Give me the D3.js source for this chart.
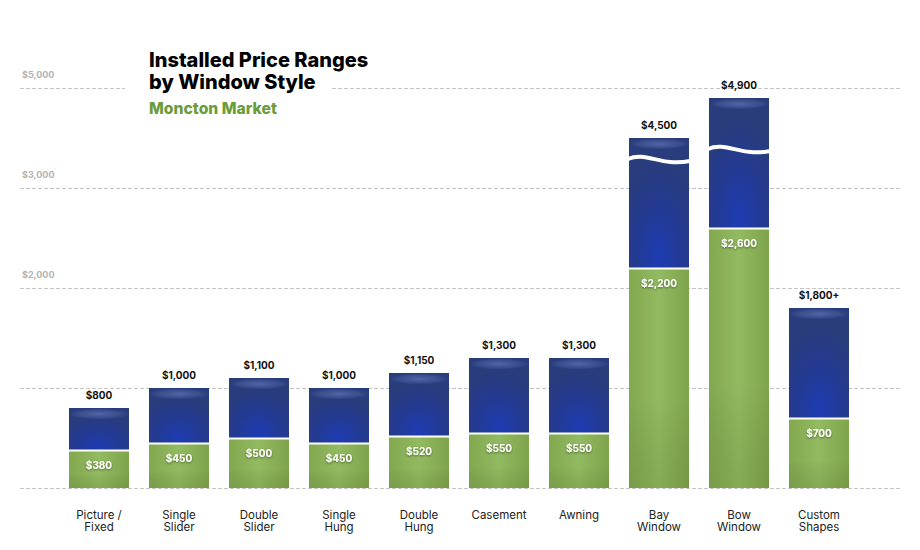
<!DOCTYPE html>
<html><head><meta charset="utf-8">
<script src="https://cdn.jsdelivr.net/npm/d3@7"></script>
<style>
html,body{margin:0;padding:0;background:#fff;}
svg{display:block;font-family:Inter,"Liberation Sans",sans-serif;}
</style></head>
<body>
<svg id="chart" width="920" height="550"></svg>
<script>
// ---- data ----
const categories = ["Picture / Fixed","Single Slider","Double Slider","Single Hung","Double Hung","Casement","Awning","Bay Window","Bow Window","Custom Shapes"];
const categoryLines = [["Picture /","Fixed"],["Single","Slider"],["Double","Slider"],["Single","Hung"],["Double","Hung"],["Casement"],["Awning"],["Bay","Window"],["Bow","Window"],["Custom","Shapes"]];
const lowValues = [380,450,500,450,520,550,550,2200,2600,700];
const highValues = [800,1000,1100,1000,1150,1300,1300,4500,4900,1800];
const lowLabels = ["$380","$450","$500","$450","$520","$550","$550","$2,200","$2,600","$700"];
const highLabels = ["$800","$1,000","$1,100","$1,000","$1,150","$1,300","$1,300","$4,500","$4,900","$1,800+"];
const breakValues = [null,null,null,null,null,null,null,4300,4400,null]; // axis-break marks
const tickValues = [0,1000,2000,3000,5000];
const tickLabels = ["","","$2,000","$3,000","$5,000"];
const axisBreakStart = 3000, axisBreakGap = 1000;
const title = ["Installed Price Ranges","by Window Style"];
const subtitle = "Moncton Market";

// ---- scales ----
const svg = d3.select("#chart");
const x = d3.scaleBand().domain(categories).range([59,859]).paddingInner(0.25).paddingOuter(0.125);
const yLin = d3.scaleLinear().domain([0,4000]).range([488,88]);
const y = v => v > axisBreakStart ? yLin(v - axisBreakGap) : yLin(v);

// ---- defs ----
const defs = svg.append("defs");
const rg = defs.append("radialGradient").attr("id","blueGlow").attr("cx","0.5").attr("cy","0.92").attr("r","0.75").attr("fx","0.5").attr("fy","0.92");
rg.append("stop").attr("offset","0").attr("stop-color","#1d3cb4");
rg.append("stop").attr("offset","0.45").attr("stop-color","#233a96");
rg.append("stop").attr("offset","1").attr("stop-color","#293c7b");
const hl = defs.append("radialGradient").attr("id","topHi").attr("cx","0.5").attr("cy","0.45").attr("r","0.5");
hl.append("stop").attr("offset","0").attr("stop-color","#7488cc").attr("stop-opacity",0.55);
hl.append("stop").attr("offset","0.7").attr("stop-color","#6a80c4").attr("stop-opacity",0.25);
hl.append("stop").attr("offset","1").attr("stop-color","#6a80c4").attr("stop-opacity",0);
const gg = defs.append("linearGradient").attr("id","greenH").attr("x1",0).attr("y1",0).attr("x2",1).attr("y2",0);
gg.append("stop").attr("offset","0").attr("stop-color","#82a850");
gg.append("stop").attr("offset","0.5").attr("stop-color","#92ba60");
gg.append("stop").attr("offset","1").attr("stop-color","#7fa44c");
const gv = defs.append("linearGradient").attr("id","greenV").attr("x1",0).attr("y1",0).attr("x2",0).attr("y2",1);
gv.append("stop").attr("offset","0").attr("stop-color","#000").attr("stop-opacity",0);
gv.append("stop").attr("offset","0.6").attr("stop-color","#000").attr("stop-opacity",0);
gv.append("stop").attr("offset","1").attr("stop-color","#2a4010").attr("stop-opacity",0.12);
const sh = defs.append("filter").attr("id","txtShadow").attr("x","-20%").attr("y","-40%").attr("width","140%").attr("height","180%");
sh.append("feDropShadow").attr("dx",0).attr("dy",1).attr("stdDeviation",1).attr("flood-color","#000").attr("flood-opacity",0.45);

// ---- gridlines ----
const grid = svg.append("g");
grid.selectAll("line").data(tickValues).join("line")
  .attr("x1",20).attr("x2",900).attr("y1",d=>y(d)+0.5).attr("y2",d=>y(d)+0.5)
  .attr("stroke","#c4c4c4").attr("stroke-width",1).attr("stroke-dasharray","4,2");
grid.selectAll("text").data(tickValues).join("text")
  .attr("x",22).attr("y",d=>y(d)-10)
  .attr("font-size",9).attr("font-weight",700).attr("fill","#b3b3b3")
  .text((d,i)=>tickLabels[i]);

// ---- bars ----
const bars = svg.append("g").selectAll("g").data(categories).join("g");
const bw = x.bandwidth();
// blue (high) segment
bars.append("rect")
  .attr("x",d=>x(d)).attr("width",bw)
  .attr("y",(d,i)=>y(highValues[i]))
  .attr("height",(d,i)=>y(lowValues[i]) - y(highValues[i]))
  .attr("fill","url(#blueGlow)");
bars.append("rect")
  .attr("x",d=>x(d)).attr("width",bw)
  .attr("y",(d,i)=>y(highValues[i])+1)
  .attr("height",11)
  .attr("fill","url(#topHi)");
// green (low) segment
bars.append("rect")
  .attr("x",d=>x(d)).attr("width",bw)
  .attr("y",(d,i)=>y(lowValues[i])+1)
  .attr("height",(d,i)=>y(0)-y(lowValues[i])-1)
  .attr("fill","url(#greenH)");
bars.append("rect")
  .attr("x",d=>x(d)).attr("width",bw)
  .attr("y",(d,i)=>y(lowValues[i])+1)
  .attr("height",(d,i)=>y(0)-y(lowValues[i])-1)
  .attr("fill","url(#greenV)");
// separator
bars.append("line")
  .attr("x1",d=>x(d)).attr("x2",d=>x(d)+bw)
  .attr("y1",(d,i)=>y(lowValues[i])+0.5).attr("y2",(d,i)=>y(lowValues[i])+0.5)
  .attr("stroke","#fff").attr("stroke-width",2);
// break waves
bars.filter((d,i)=>breakValues[i]!==null).append("path")
  .attr("d",d=>{
    const i = categories.indexOf(d);
    const yb = y(breakValues[i]);
    const x0 = x(d)-1, x1 = x(d)+bw+1;
    return `M${x0},${yb+1} C${x0+bw*0.3},${yb-7} ${x0+bw*0.55},${yb+9} ${x1},${yb+3}`;
  })
  .attr("fill","none").attr("stroke","#fff").attr("stroke-width",4);
// top labels
bars.append("text")
  .attr("x",d=>x(d)+bw/2).attr("y",(d,i)=>y(highValues[i])-9)
  .attr("text-anchor","middle").attr("font-size",10).attr("font-weight",700).attr("fill","#111")
  .text((d,i)=>highLabels[i]);
// inside labels
bars.append("text")
  .attr("x",d=>x(d)+bw/2).attr("y",(d,i)=>y(lowValues[i])+18.5)
  .attr("text-anchor","middle").attr("font-size",10).attr("font-weight",700).attr("fill","#fff")
  .attr("filter","url(#txtShadow)")
  .text((d,i)=>lowLabels[i]);
// category labels
bars.append("text")
  .attr("x",d=>x(d)+bw/2).attr("y",518.5)
  .attr("text-anchor","middle").attr("font-size",11.5).attr("fill","#222")
  .selectAll("tspan").data((d,i)=>categoryLines[i]).join("tspan")
  .attr("x",function(){return this.parentNode.getAttribute("x");})
  .attr("dy",(d,j)=>j===0?0:12.5)
  .text(d=>d);

// ---- title ----
svg.append("rect").attr("x",125).attr("y",45).attr("width",205).attr("height",75).attr("fill","#fff");
svg.append("text").attr("x",149).attr("y",67).attr("font-size",20).attr("font-weight",800).attr("fill","#000").text(title[0]);
svg.append("text").attr("x",149).attr("y",89).attr("font-size",20).attr("font-weight",800).attr("fill","#000").text(title[1]);
svg.append("text").attr("x",149).attr("y",114).attr("font-size",15.7).attr("font-weight",800).attr("fill","#6c9b3a").text(subtitle);
</script>
</body></html>
